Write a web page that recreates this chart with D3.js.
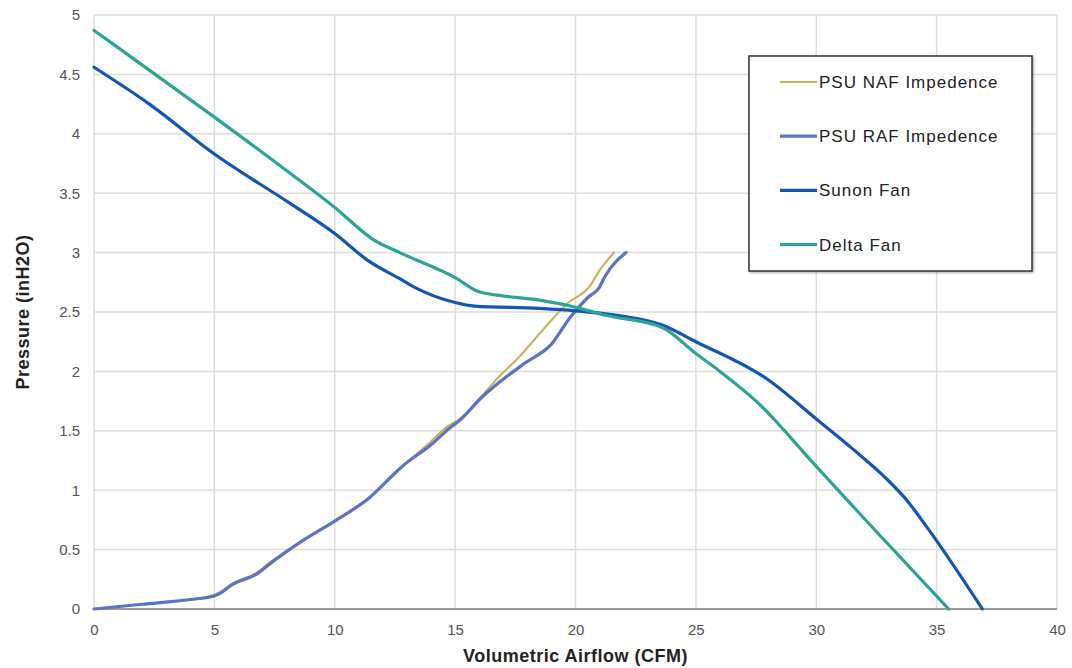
<!DOCTYPE html>
<html>
<head>
<meta charset="utf-8">
<script src="https://cdn.jsdelivr.net/npm/d3@7"></script>
<style>
  body { margin: 0; background: #fff; }
  svg { font-family: 'Liberation Sans', Arial, sans-serif; }
</style>
</head>
<body>
<div class="fan-plot"></div>
<script>
// values (x = CFM, y = inH2O)
const sunonX = [0, 2.3, 5, 8.1, 10, 11.4, 12.7, 13.3, 15, 15.8, 18.5, 20, 21.8, 23.6, 25, 28, 30, 31.5, 32.9, 33.7, 34.7, 36.9]
const sunonY = [4.56, 4.25, 3.83, 3.42, 3.16, 2.93, 2.78, 2.71, 2.58, 2.55, 2.53, 2.51, 2.47, 2.39, 2.25, 1.93, 1.6, 1.35, 1.1, 0.93, 0.66, 0]

const deltaX = [0, 0.9, 5, 7.8, 10, 11.6, 12.7, 15, 16, 18.5, 19.7, 21.3, 23.6, 25, 26, 27.5, 30, 32, 35.5]
const deltaY = [4.87, 4.74, 4.14, 3.72, 3.38, 3.11, 3.0, 2.79, 2.67, 2.6, 2.555, 2.47, 2.37, 2.15, 2.0, 1.75, 1.2, 0.76, 0]

const rafX = [0, 2, 4, 5, 5.3, 5.7, 6.8, 7.3, 8.7, 10, 11.4, 12.8, 14.1, 14.75, 15.2, 16.1, 16.85, 17.9, 19.0, 19.8, 20.5, 21.0, 21.2, 22.1]
const rafY = [0, 0.04, 0.08, 0.11, 0.14, 0.2, 0.3, 0.38, 0.58, 0.74, 0.93, 1.2, 1.4, 1.52, 1.59, 1.78, 1.91, 2.07, 2.23, 2.46, 2.62, 2.71, 2.79, 3.0]

const nafX = [0, 2, 4, 5, 5.3, 5.7, 6.8, 7.3, 8.7, 10, 11.4, 12.8, 14.0, 14.7, 15.2, 16.1, 16.8, 17.7, 18.6, 19.65, 20.6, 21.0, 21.6]
const nafY = [0, 0.04, 0.08, 0.12, 0.15, 0.21, 0.31, 0.39, 0.58, 0.74, 0.93, 1.2, 1.41, 1.54, 1.6, 1.79, 1.95, 2.13, 2.34, 2.57, 2.72, 2.85, 3.0]

const seriesNames = ['PSU NAF Impedence', 'PSU RAF Impedence', 'Sunon Fan', 'Delta Fan']
const seriesColors = ['#c9b45a', '#5b74c6', '#1356b9', '#2ba598']
const seriesWidths = [2.2, 3.2, 3.2, 3.2]

const xTicks = [0, 5, 10, 15, 20, 25, 30, 35, 40]
const yTicks = [0, 0.5, 1, 1.5, 2, 2.5, 3, 3.5, 4, 4.5, 5]

const series = [
    {x: nafX, y: nafY},
    {x: rafX, y: rafY},
    {x: sunonX, y: sunonY},
    {x: deltaX, y: deltaY}
].map((s, i) => ({
    name: seriesNames[i],
    color: seriesColors[i],
    width: seriesWidths[i],
    points: s.x.map((v, j) => [v, s.y[j]])
}))

const width = 1072
const height = 668
const margin = {left: 94, right: 15, top: 15, bottom: 59}

const svg = d3.select('.fan-plot').append('svg').attr('width', width).attr('height', height)

const x = d3.scaleLinear().domain([0, 40]).range([margin.left, width - margin.right])
const y = d3.scaleLinear().domain([0, 5]).range([height - margin.bottom, margin.top])

// grid
svg.selectAll('line.vgrid')
    .data(xTicks)
    .enter()
    .append('line')
    .attr('x1', d=>x(d)).attr('x2', d=>x(d))
    .attr('y1', y(0)).attr('y2', y(5))
    .attr('stroke', '#dcdcdc')
    .attr('stroke-width', 1.5)
svg.selectAll('line.hgrid')
    .data(yTicks)
    .enter()
    .append('line')
    .attr('x1', x(0)).attr('x2', x(40))
    .attr('y1', d=>y(d)).attr('y2', d=>y(d))
    .attr('stroke', d=>d===0 ? '#9a9a9a' : '#dcdcdc')
    .attr('stroke-width', d=>d===0 ? 2 : 1.5)

// axes (labels only, google-sheets style)
const xAxis = svg.append('g')
    .attr('transform', `translate(0,${y(0)})`)
    .call(d3.axisBottom(x).tickValues(xTicks).tickSize(0).tickPadding(15).tickFormat(d3.format('d')))
xAxis.select('.domain').remove()
xAxis.selectAll('text').attr('font-size', 15).attr('fill', '#555').attr('font-family', 'Liberation Sans, Arial, sans-serif')

const yAxis = svg.append('g')
    .attr('transform', `translate(${x(0)},0)`)
    .call(d3.axisLeft(y).tickValues(yTicks).tickSize(0).tickPadding(14).tickFormat(d=>d))
yAxis.select('.domain').remove()
yAxis.selectAll('text').attr('font-size', 15).attr('fill', '#555').attr('font-family', 'Liberation Sans, Arial, sans-serif')

// lines
const line = d3.line()
    .x(d=>x(d[0]))
    .y(d=>y(d[1]))
    .curve(d3.curveMonotoneX)

svg.selectAll('path.series')
    .data(series)
    .enter()
    .append('path')
    .attr('class', 'series')
    .attr('d', d=>line(d.points))
    .attr('fill', 'none')
    .attr('stroke', d=>d.color)
    .attr('stroke-width', d=>d.width)
    .attr('stroke-linejoin', 'round')
    .attr('stroke-linecap', 'round')

// axis titles
svg.append('text')
    .text('Volumetric Airflow (CFM)')
    .attr('x', x(20))
    .attr('y', 662)
    .attr('font-size', 18)
    .attr('font-weight', 'bold')
    .attr('letter-spacing', 0.5)
    .attr('fill', '#222')
    .attr('text-anchor', 'middle')
svg.append('text')
    .text('Pressure (inH2O)')
    .attr('transform', `translate(29,${y(2.5)}) rotate(-90)`)
    .attr('font-size', 18)
    .attr('font-weight', 'bold')
    .attr('letter-spacing', 0.5)
    .attr('fill', '#222')
    .attr('text-anchor', 'middle')

// legend
const legend = svg.append('g')
legend.append('rect')
    .attr('x', 749).attr('y', 56)
    .attr('width', 283).attr('height', 215)
    .attr('fill', '#fff')
    .attr('stroke', '#333')
    .attr('stroke-width', 1.5)
    .style('filter', 'drop-shadow(1px 1px 1px rgba(0,0,0,0.35))')
const item = legend.selectAll('g.item')
    .data(series)
    .enter()
    .append('g')
    .attr('transform', (d,i)=>`translate(0,${82 + i*54.2})`)
item.append('line')
    .attr('x1', 780).attr('x2', 817)
    .attr('y1', 0).attr('y2', 0)
    .attr('stroke', d=>d.color)
    .attr('stroke-width', d=>d.width)
item.append('text')
    .text(d=>d.name)
    .attr('x', 819)
    .attr('y', 6)
    .attr('font-size', 17)
    .attr('letter-spacing', 1)
    .attr('fill', '#222')
</script>
</body>
</html>
